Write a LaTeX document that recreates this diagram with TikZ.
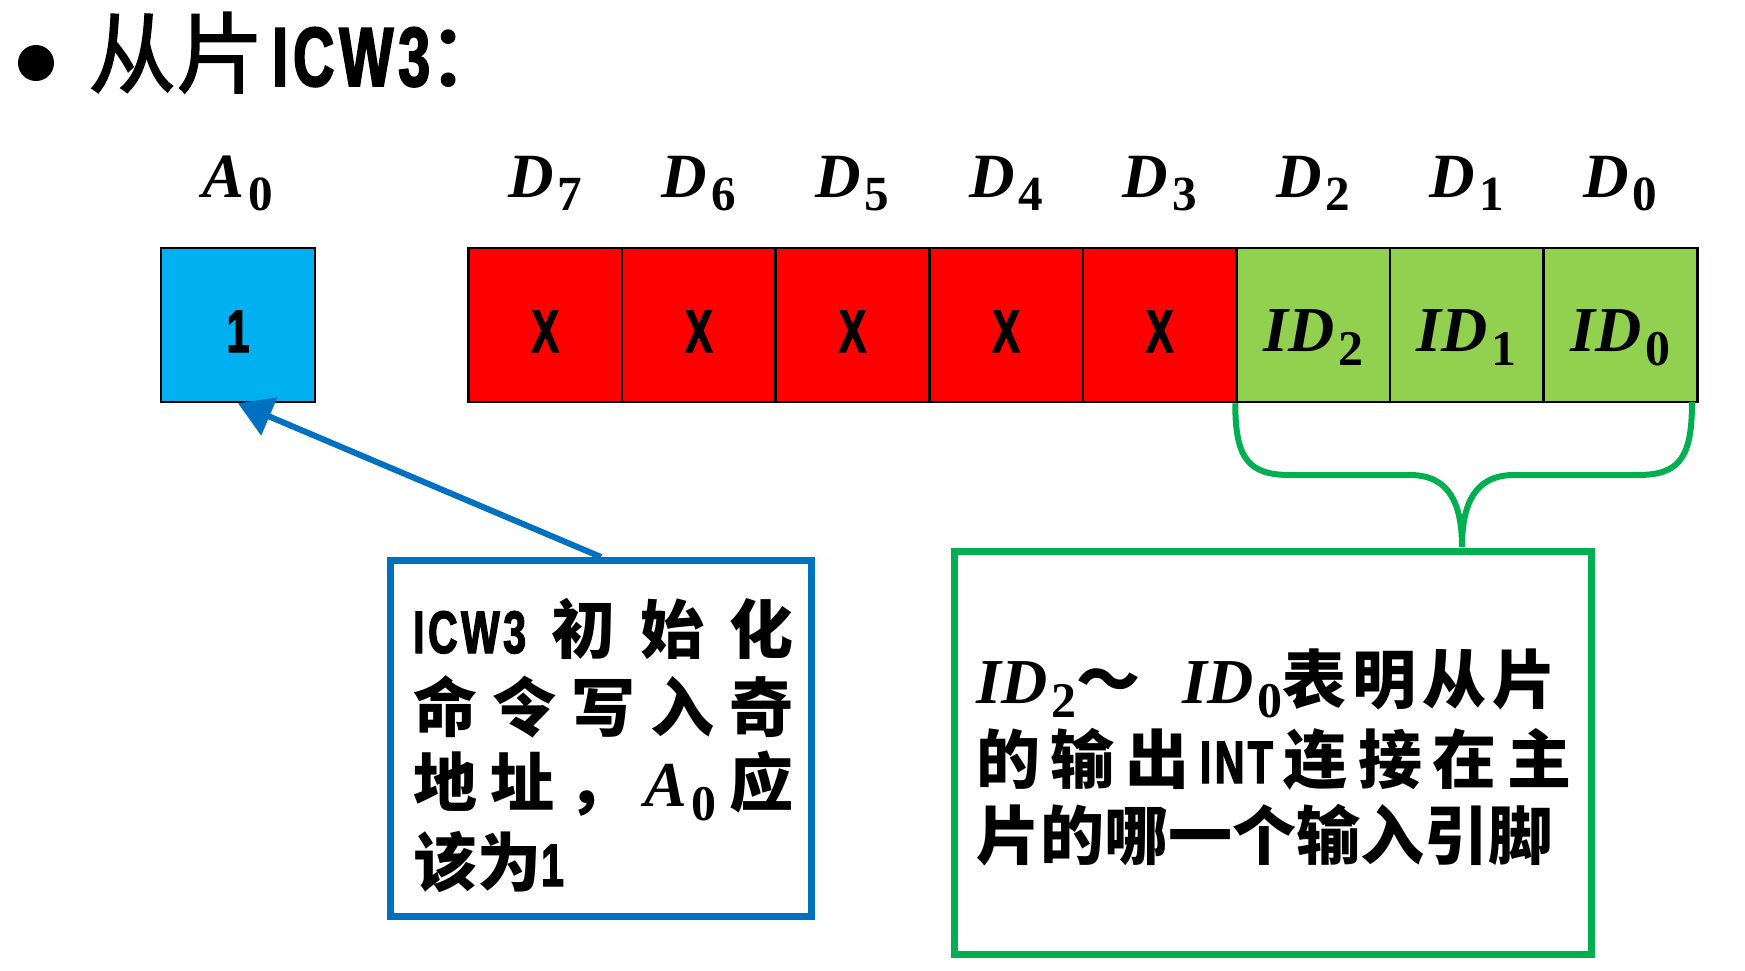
\documentclass[tikz,border=0pt]{standalone}
\usepackage{fontspec}
\setmainfont{Noto Sans CJK SC}
\newfontfamily\cjk{Noto Sans CJK SC}
\newfontfamily\cjkmed{Noto Sans CJK SC}[FakeBold=1.6]
\newfontfamily\lat{Liberation Sans Bold}[FakeStretch=0.68,LetterSpace=6,FakeBold=2.2]
\newfontfamily\ser{Liberation Serif}
\usetikzlibrary{arrows.meta}
\definecolor{a0blue}{HTML}{00B0F0}
\definecolor{xred}{HTML}{FF0000}
\definecolor{idgreen}{HTML}{92D050}
\definecolor{lblue}{HTML}{0070C0}
\definecolor{lgreen}{HTML}{00B050}
\newcommand\sym[2]{{\ser\bfseries\itshape #1}\kern0.06em\raisebox{-0.22em}{\scalebox{0.78}{\ser\bfseries #2}}}
\newcommand\narrowtxt[1]{{\lat\fontsize{60pt}{60pt}\selectfont #1}}
\begin{document}
\begin{tikzpicture}[x=1pt,y=-1pt,
  cell/.style={draw=black,line width=2.5pt,minimum width=153.6pt,minimum height=154pt,inner sep=0pt},
  lbl/.style={anchor=base,inner sep=0pt,font={\fontsize{63pt}{63pt}\selectfont}},
  bit/.style={anchor=base,inner sep=0pt,font={\lat\fontsize{60pt}{60pt}\selectfont}},
  idtxt/.style={anchor=base,inner sep=0pt,font={\fontsize{64pt}{64pt}\selectfont}},
  txt/.style={anchor=base west,inner sep=0pt,font={\cjk\bfseries\fontsize{64pt}{64pt}\selectfont}},
  bline/.style={draw=lblue,line width=6pt},
  gline/.style={draw=lgreen,line width=6pt},
  tbox/.style={line width=7pt,inner sep=0pt}]
\useasboundingbox (0,0) rectangle (1745,970);
% title
\node[circle,fill=black,inner sep=0pt,minimum size=36pt] (bullet) at (36,63) {};
\node[anchor=base west,inner sep=0pt,font={\cjkmed\fontsize{88pt}{88pt}\selectfont}] (title) at (88,86)
  {从片\kern8pt{\lat\fontsize{84pt}{84pt}\selectfont ICW3}\kern-4pt：};
% A0 cell
\node[cell,fill=a0blue] (a0) at (238,325) {};
\node[bit] (a0t) at (238,352) {1};
\node[lbl] (la0) at (238,197) {\sym{A}{0}};
% D cells
\foreach \i/\n in {0/7,1/6,2/5,3/4,4/3}{
  \node[cell,fill=xred] (c\n) at (545.3+153.6*\i,325) {};
  \node[bit] (t\n) at (545.3+153.6*\i,352) {X};
}
\foreach \i/\n in {5/2,6/1,7/0}{
  \node[cell,fill=idgreen] (c\n) at (545.3+153.6*\i,325) {};
  \node[idtxt] (t\n) at (545.3+153.6*\i,351) {\sym{ID}{\n}};
}
\foreach \i/\n in {0/7,1/6,2/5,3/4,4/3,5/2,6/1,7/0}{
  \node[lbl] (l\n) at (545.3+153.6*\i,197) {\sym{D}{\n}};
}
% blue box
\node[tbox,draw=lblue,minimum width=421pt,minimum height=356pt] (bbox) at (601,738.5) {};
\node[txt] (b1) at (413,653) {\hbox to 380pt{\narrowtxt{ICW3}\hfill 初\hfill 始\hfill 化}};
\node[txt] (b2) at (413,731) {\hbox to 380pt{命\hfill 令\hfill 写\hfill 入\hfill 奇}};
\node[txt] (b3) at (413,806) {\hbox to 380pt{地\hfill 址\hfill ，\hfill\sym{A}{0}\hfill 应}};
\node[txt] (b4) at (413,886) {该为\narrowtxt{1}};
\draw[bline,-{Triangle[length=34pt,width=40pt]}] (bbox.north) -- (a0.south);
% green box
\node[tbox,draw=lgreen,minimum width=637pt,minimum height=403pt] (gbox) at (1273,752.5) {};
\node[txt] (g1) at (976,703) {\sym{ID}{2}～\hspace{42pt}\sym{ID}{0}表\kern6pt 明\kern6pt 从\kern6pt 片};
\node[txt] (g2) at (976,783) {\hbox to 595pt{的\hfill 输\hfill 出\hfill\narrowtxt{INT}\hfill 连\hfill 接\hfill 在\hfill 主}};
\node[txt] (g3) at (976,859) {片的哪一个输入引脚};
% brace
\coordinate (brL) at (c2.south west);
\coordinate (brR) at (1692,402);
\coordinate (brT) at (1462,547);
\draw[gline] (brL) .. controls +(0,55) and +(-42,0) .. (1290,475) -- (1410,475)
  .. controls +(40,0) and +(0,-42) .. (brT)
  .. controls +(0,-42) and +(-40,0) .. (1514,475) -- (1638,475)
  .. controls +(42,0) and +(0,55) .. (brR);
\end{tikzpicture}
\end{document}
